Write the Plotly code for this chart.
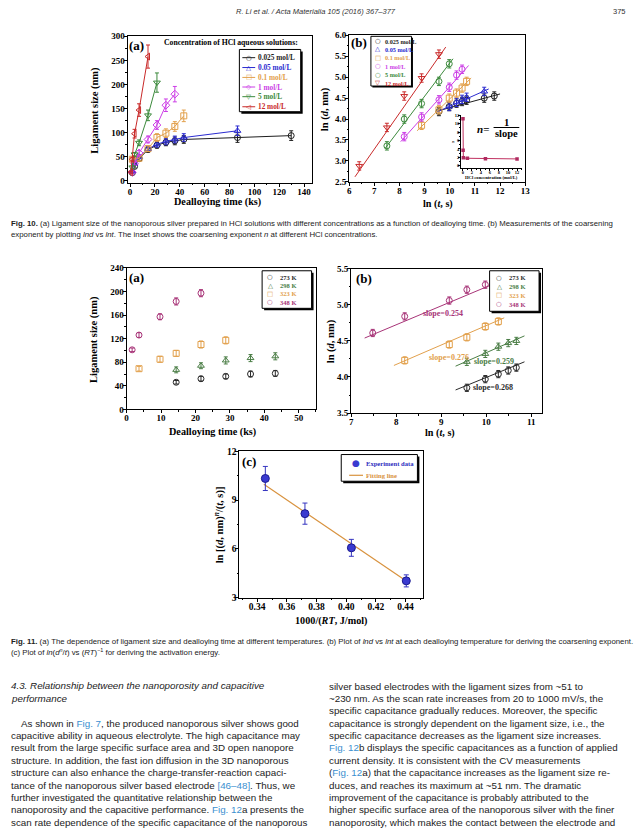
import plotly.graph_objects as go

W, H = 640, 834
SERIF = "Liberation Serif, Times New Roman, serif"
SANS = "Liberation Sans, Arial, sans-serif"
LINK = "#3b8fd0"

# ---------------- Fig. 10(a): ligament size vs dealloying time ----------------
conc_names = ["0.025 mol/L", "0.05 mol/L", "0.1 mol/L", "1 mol/L", "5 mol/L", "12 mol/L"]
t_0025 = [1.8, 3.6, 7.2, 14.4, 21.6, 28.8, 36.0, 43.2, 86.4, 129.6]
d_0025 = [17, 30, 46, 65, 74, 80, 83, 86, 90, 94]
e_0025 = [2, 3, 4, 5, 6, 7, 8, 8, 10, 10]
t_005 = [1.8, 3.6, 7.2, 14.4, 21.6, 28.8, 36.0, 43.2, 86.4]
d_005 = [20, 36, 50, 66, 76, 82, 86, 90, 104]
e_005 = [2, 3, 4, 5, 6, 7, 7, 8, 10]
t_01 = [1.8, 7.2, 14.4, 21.6, 28.8, 36.0, 43.2]
d_01 = [45, 47, 67, 90, 99, 113, 135]
e_01 = [4, 5, 6, 8, 9, 10, 12]
t_1 = [1.8, 3.6, 7.2, 14.4, 21.6, 28.8, 36.0]
d_1 = [18, 36, 58, 86, 116, 157, 180]
e_1 = [2, 3, 5, 7, 9, 13, 16]
t_5 = [1.8, 3.6, 7.2, 14.4, 21.6]
d_5 = [28, 55, 79, 136, 204]
e_5 = [3, 4, 6, 11, 20]
t_12 = [0.6, 1.8, 3.6, 7.2, 14.4]
d_12 = [18, 45, 98, 147, 258]
e_12 = [2, 4, 9, 13, 24]

# ---------------- Fig. 10(b): ln d vs ln t ----------------
lt_0025 = [9.57, 9.98, 10.27, 10.49, 10.67, 11.37, 11.77]
ld_0025 = [4.18, 4.30, 4.38, 4.42, 4.45, 4.50, 4.55]
lt_005 = [9.98, 10.27, 10.49, 10.67, 11.37]
ld_005 = [4.30, 4.40, 4.47, 4.52, 4.66]
lt_01 = [8.88, 9.57, 9.98, 10.27, 10.49, 10.67]
ld_01 = [3.85, 4.22, 4.50, 4.62, 4.74, 4.90]
lt_1 = [8.19, 8.88, 9.57, 9.98, 10.27, 10.49]
ld_1 = [3.58, 4.05, 4.46, 4.76, 5.05, 5.19]
lt_5 = [7.50, 8.19, 8.88, 9.57, 9.98]
ld_5 = [3.36, 4.00, 4.37, 4.90, 5.32]
lt_12 = [6.40, 7.50, 8.19, 8.88, 9.57]
ld_12 = [2.88, 3.80, 4.55, 4.98, 5.55]
ln_err = [0.10, 0.10, 0.10, 0.10, 0.10, 0.10, 0.10]
fit_x_10b = [[9.5, 12.0], [9.5, 11.55], [8.7, 10.85], [8.05, 10.75], [7.43, 10.13], [6.23, 9.84]]
fit_y_10b = [[4.19, 4.60], [4.17, 4.72], [3.72, 4.98], [3.46, 5.28], [3.30, 5.44], [2.62, 5.72]]

# inset: coarsening exponent n vs HCl concentration
inset_conc = [0.025, 0.05, 0.1, 1, 5, 12]
inset_n = [11.1, 3.7, 1.9, 1.8, 1.7, 1.65]

# ---------------- Fig. 11(a): ligament size vs time at temperatures ----------------
temp_names = ["273 K", "298 K", "323 K", "348 K"]
t_273 = [14.4, 21.6, 28.8, 36.0, 43.2]
d_273 = [46, 52, 56, 60, 61]
e_273 = [3, 4, 4, 5, 5]
t_298 = [14.4, 21.6, 28.8, 36.0, 43.2]
d_298 = [67, 74, 83, 87, 90]
e_298 = [5, 5, 6, 6, 6]
t_323 = [3.6, 9.7, 14.4, 21.6, 28.8]
d_323 = [69, 85, 95, 110, 117]
e_323 = [4, 5, 5, 6, 6]
t_348 = [1.6, 3.6, 9.7, 14.4, 21.6]
d_348 = [101, 126, 157, 183, 197]
e_348 = [3, 4, 5, 6, 6]

# ---------------- Fig. 11(b): ln d vs ln t at temperatures ----------------
lt_273 = [9.57, 9.98, 10.27, 10.49, 10.67]
ld_273 = [3.85, 3.97, 4.04, 4.09, 4.13]
lt_298 = [9.57, 9.98, 10.27, 10.49, 10.67]
ld_298 = [4.21, 4.32, 4.42, 4.47, 4.50]
lt_323 = [8.19, 9.18, 9.57, 9.98, 10.27]
ld_323 = [4.23, 4.45, 4.55, 4.70, 4.77]
lt_348 = [7.48, 8.19, 9.18, 9.57, 9.98]
ld_348 = [4.61, 4.84, 5.06, 5.21, 5.28]
ld_err = [0.05, 0.05, 0.05, 0.05, 0.05]
fit_x_11b = [[9.32, 10.85], [9.32, 10.85], [7.95, 10.4], [7.3, 10.2]]
fit_y_11b = [[3.82, 4.21], [4.15, 4.57], [4.16, 4.82], [4.54, 5.30]]
slope_labels = ["slope=0.268", "slope=0.259", "slope=0.276", "slope=0.254"]
slope_lx = [10.15, 10.17, 9.17, 9.05]
slope_ly = [3.86, 4.22, 4.27, 4.88]

# ---------------- Fig. 11(c): Arrhenius plot ----------------
inv_rt = [0.3455, 0.3722, 0.4035, 0.4405]
ln_ratio = [10.33, 8.17, 6.07, 4.04]
ln_ratio_err = [0.74, 0.65, 0.52, 0.37]
fit_x_11c = [0.3445, 0.441]
fit_y_11c = [9.97, 4.00]

# ---------------- styling ----------------
C10 = ["#1e1e1e", "#2b2bd0", "#e2a04c", "#cc3ee6", "#3c8a3c", "#c92a2a"]
SYM10A = ["circle-open", "triangle-up-open", "square-open", "diamond-open", "triangle-down-open", "triangle-left-open"]
SYM10B = ["circle-open", "triangle-up-open", "square-open", "circle-open", "circle-open", "triangle-down-open"]
C11 = ["#2a2a2a", "#4a7d45", "#e2a04c", "#a83478"]
SYM11 = ["circle-open", "triangle-up-open", "square-open", "circle-open"]


def X(p):
    return p / W


def Y(p):
    return 1 - p / H


fig = go.Figure()
ann = []
shapes = []


def text(x, y, s, size, color="#000", family=SERIF, xa="center", ya="middle", angle=0):
    ann.append(dict(x=X(x), y=Y(y), xref="paper", yref="paper", text=s, showarrow=False,
                    font=dict(size=size, color=color, family=family), xanchor=xa, yanchor=ya,
                    textangle=angle, borderpad=0))


def rect(x0, y0, x1, y1, fill="white", lc="black", lw=1):
    shapes.append(dict(type="rect", xref="paper", yref="paper", x0=X(x0), x1=X(x1), y0=Y(y1), y1=Y(y0),
                       fillcolor=fill, line=dict(color=lc, width=lw), layer="above"))


def hline(x0, x1, y, color, w=1):
    shapes.append(dict(type="line", xref="paper", yref="paper", x0=X(x0), x1=X(x1), y0=Y(y), y1=Y(y),
                       line=dict(color=color, width=w), layer="above"))


def legend_box(x0, y0, x1, y1, sh=2):
    rect(x0 + sh, y0 + sh, x1 + sh, y1 + sh, fill="black", lw=0)
    rect(x0, y0, x1, y1)


def axis(px0, px1, rng, dtick, minor, tick0=0, size=9, fmt=None, ticklen=3, mirror=True, vertical=False,
         standoff=-3):
    dom = [Y(px1), Y(px0)] if vertical else [X(px0), X(px1)]
    d = dict(domain=dom, range=rng, dtick=dtick, tick0=tick0, showgrid=False, zeroline=False,
             showline=True, linecolor="black", linewidth=1, mirror=mirror, ticks="outside",
             ticklen=ticklen, tickwidth=1, tickcolor="black", ticklabelstandoff=standoff,
             tickfont=dict(family=SERIF, size=size, color="black", weight="bold"),
             minor=dict(ticks="outside", ticklen=ticklen / 2, dtick=minor, tick0=tick0, tickcolor="black", showgrid=False),
             fixedrange=True)
    if fmt:
        d["tickformat"] = fmt
    return d


# ---------- Fig. 10(a) traces ----------
series10a = [(t_0025, d_0025, e_0025), (t_005, d_005, e_005), (t_01, d_01, e_01),
             (t_1, d_1, e_1), (t_5, d_5, e_5), (t_12, d_12, e_12)]
for (tx, dy, ee), c, s in zip(series10a, C10, SYM10A):
    fig.add_trace(go.Scatter(x=tx, y=dy, xaxis="x", yaxis="y", mode="lines+markers",
                             line=dict(color=c, width=1),
                             marker=dict(symbol=s, size=6, color=c, line=dict(width=1, color=c)),
                             error_y=dict(type="data", array=ee, color=c, thickness=1, width=2),
                             showlegend=False))

# ---------- Fig. 10(b) traces ----------
series10b = [(lt_0025, ld_0025), (lt_005, ld_005), (lt_01, ld_01), (lt_1, ld_1), (lt_5, ld_5), (lt_12, ld_12)]
for (lx, ly), fx, fy, c, s in zip(series10b, fit_x_10b, fit_y_10b, C10, SYM10B):
    fig.add_trace(go.Scatter(x=fx, y=fy, xaxis="x2", yaxis="y2", mode="lines",
                             line=dict(color=c, width=1), showlegend=False))
    fig.add_trace(go.Scatter(x=lx, y=ly, xaxis="x2", yaxis="y2", mode="markers",
                             marker=dict(symbol=s, size=6, color=c, line=dict(width=1, color=c)),
                             error_y=dict(type="data", array=ln_err[:len(lx)], color=c, thickness=1, width=2),
                             showlegend=False))

# inset
fig.add_trace(go.Scatter(x=inset_conc, y=inset_n, xaxis="x3", yaxis="y3", mode="lines+markers",
                         line=dict(color="#c03060", width=1),
                         marker=dict(symbol="square", size=3.5, color="#b02a60"), showlegend=False))

# ---------- Fig. 11(a) traces ----------
series11a = [(t_273, d_273, e_273), (t_298, d_298, e_298), (t_323, d_323, e_323), (t_348, d_348, e_348)]
for (tx, dy, ee), c, s in zip(series11a, C11, SYM11):
    fig.add_trace(go.Scatter(x=tx, y=dy, xaxis="x4", yaxis="y4", mode="markers",
                             marker=dict(symbol=s, size=6, color=c, line=dict(width=1, color=c)),
                             error_y=dict(type="data", array=ee, color=c, thickness=1, width=2),
                             showlegend=False))

# ---------- Fig. 11(b) traces ----------
series11b = [(lt_273, ld_273), (lt_298, ld_298), (lt_323, ld_323), (lt_348, ld_348)]
for (lx, ly), fx, fy, c, s in zip(series11b, fit_x_11b, fit_y_11b, C11, SYM11):
    fig.add_trace(go.Scatter(x=fx, y=fy, xaxis="x5", yaxis="y5", mode="lines",
                             line=dict(color=c, width=1), showlegend=False))
    fig.add_trace(go.Scatter(x=lx, y=ly, xaxis="x5", yaxis="y5", mode="markers",
                             marker=dict(symbol=s, size=6, color=c, line=dict(width=1, color=c)),
                             error_y=dict(type="data", array=ld_err, color=c, thickness=1, width=2),
                             showlegend=False))
for lab, lx, ly, c in zip(slope_labels, slope_lx, slope_ly, C11):
    ann.append(dict(x=lx, y=ly, xref="x5", yref="y5", text="<b>" + lab + "</b>", showarrow=False,
                    font=dict(family=SERIF, size=8, color=c), xanchor="center", yanchor="middle"))

# ---------- Fig. 11(c) traces ----------
fig.add_trace(go.Scatter(x=fit_x_11c, y=fit_y_11c, xaxis="x6", yaxis="y6", mode="lines",
                         line=dict(color="#d8923e", width=1.2), showlegend=False))
fig.add_trace(go.Scatter(x=inv_rt, y=ln_ratio, xaxis="x6", yaxis="y6", mode="markers",
                         marker=dict(symbol="circle", size=8, color="#3a3ad0", line=dict(width=1, color="#1a1a90")),
                         error_y=dict(type="data", array=ln_ratio_err, color="#3434c0", thickness=1, width=2.5),
                         showlegend=False))

# ---------- axes ----------
layout_axes = dict(
    xaxis=dict(axis(127, 313, [-2, 146], 20, 10), anchor="y"),
    yaxis=dict(axis(31.7, 180, [-4, 300], 50, 25, vertical=True), anchor="x"),
    xaxis2=dict(axis(351, 529, [6, 13], 1, 0.5), anchor="y2"),
    yaxis2=dict(axis(30.7, 179, [2.5, 6.0], 0.5, 0.25, tick0=2.5, fmt=".1f", vertical=True), anchor="x2"),
    xaxis3=dict(axis(463.7, 525.3, [-0.5, 13], 2, 1, size=4.5, ticklen=1.5, mirror=False, standoff=-2), anchor="y3"),
    yaxis3=dict(axis(111.4, 165, [-0.5, 12], 2, 1, size=4.5, ticklen=1.5, mirror=False, vertical=True, standoff=-2), anchor="x3"),
    xaxis4=dict(axis(126, 317.4, [0, 55], 10, 5), anchor="y4"),
    yaxis4=dict(axis(266, 409.3, [0, 240], 40, 20, vertical=True), anchor="x4"),
    xaxis5=dict(axis(353, 546, [7, 11.24], 1, 0.5), anchor="y5"),
    yaxis5=dict(axis(267, 413, [3.5, 5.5], 0.5, 0.25, tick0=3.5, fmt=".1f", vertical=True), anchor="x5"),
    xaxis6=dict(axis(240, 426, [0.328, 0.452], 0.02, 0.01, tick0=0.34, fmt=".2f", size=9.5), anchor="y6"),
    yaxis6=dict(axis(451.7, 600, [3, 12], 3, 1.5, size=9.5, vertical=True), anchor="x6"),
)

# ---------- panel labels & axis titles ----------
text(136, 41, "<b>(a)</b>", 13)
text(361, 38, "<b>(b)</b>", 13)
text(136, 276, "<b>(a)</b>", 13)
text(366, 277, "<b>(b)</b>", 13)
text(250, 462, "<b>(c)</b>", 13)

text(94, 106, "<b>Ligament size (nm)</b>", 10.5, angle=-90)
text(218, 199.5, "<b>Dealloying time (ks)</b>", 10.2)
text(326, 105, "<b>ln (<i>d</i>, nm)</b>", 10.5, angle=-90)
text(441, 201, "<b>ln (<i>t</i>, s)</b>", 10.2)
text(93, 338, "<b>Ligament size (nm)</b>", 10.5, angle=-90)
text(213, 432, "<b>Dealloying time (ks)</b>", 10.2)
text(333, 340, "<b>ln (<i>d</i>, nm)</b>", 10.5, angle=-90)
text(443, 433.5, "<b>ln (<i>t</i>, s)</b>", 10.2)
text(219, 526, "<b>ln [(<i>d</i>, nm)<sup><i>n</i></sup>/(<i>t</i>, s)]</b>", 10.5, angle=-90)
text(333, 623.5, "<b>1000/(<i>RT</i>, J/mol)</b>", 10.2)

# ---------- Fig. 10(a) legend ----------
text(232, 38, "<b>Concentration of HCl aqueous solutions:</b>", 7.7)
legend_box(240, 45, 302, 108)
ys10a = [53.3, 63.3, 73.3, 83.0, 92.8, 103.0]
glyph10a = ["○", "△", "□", "◇", "▽", "◁"]
for yy, g, c, nm in zip(ys10a, glyph10a, C10, conc_names):
    hline(243, 256, yy, c)
    text(249.5, yy, g, 6.5, color=c, family="DejaVu Sans")
    text(258, yy, "<b>" + nm + "</b>", 7.3, color=c, xa="left")

# ---------- Fig. 10(b) legend ----------
legend_box(373, 31.7, 414, 82, sh=1.5)
ys10b = [36.5, 45, 53.5, 62, 70.5, 79]
glyph10b = ["○", "△", "□", "○", "○", "▽"]
for yy, g, c, nm in zip(ys10b, glyph10b, C10, conc_names):
    text(380, yy, g, 6.5, color=c, family="DejaVu Sans")
    text(386, yy, "<b>" + nm + "</b>", 6.2, color=c, xa="left")

# inset labels and formula
text(456.5, 138, "<i>n</i>", 5)
text(494.5, 175, "<b>HCl concentration (mol/L)</b>", 4.6)
text(486, 125, "<b><i>n</i>=</b>", 11)
text(510, 118.5, "<b>1</b>", 10.5)
hline(497, 523, 124, "black", 1)
text(510, 130, "<b>slope</b>", 10.5)

# ---------- Fig. 11(a) legend ----------
legend_box(263, 269, 313, 307, sh=2)
ys11 = [275.5, 284, 292.5, 301]
glyph11 = ["○", "△", "□", "○"]
for yy, g, c, nm in zip(ys11, glyph11, C11, temp_names):
    text(271, yy, g, 6.5, color=c, family="DejaVu Sans")
    text(280, yy, "<b>" + nm + "</b>", 6.5, color=c, xa="left")

# ---------- Fig. 11(b) legend ----------
legend_box(493, 269, 543, 310, sh=2)
ys11b = [276, 285, 294, 302.7]
for yy, g, c, nm in zip(ys11b, glyph11, C11, temp_names):
    text(503, yy, g, 6.5, color=c, family="DejaVu Sans")
    text(512, yy, "<b>" + nm + "</b>", 6.5, color=c, xa="left")

# ---------- Fig. 11(c) legend ----------
legend_box(343, 455, 420, 482, sh=2)
text(358, 464, "●", 9, color="#3a3ad0", family="DejaVu Sans")
text(367, 464, "<b>Experiment data</b>", 6.6, color="#2e2ec0", xa="left")
hline(351, 365, 476, "#d8923e", 1.2)
text(367, 476, "<b>Fitting line</b>", 6.6, color="#d8923e", xa="left")

# ---------- page text ----------
text(317, 7, "<i>R. Li et al. / Acta Materialia 105 (2016) 367–377</i>", 7.5, color="#333", family=SANS)
text(632, 7, "375", 7.5, color="#333", family=SANS, xa="right")

CAP = 7.8
text(8, 221, "<b>Fig. 10.</b> (a) Ligament size of the nanoporous silver prepared in HCl solutions with different concentrations as a function of dealloying time. (b) Measurements of the coarsening",
     CAP, color="#222", family=SANS, xa="left")
text(8, 232, "exponent by plotting <i>lnd</i> vs <i>lnt</i>. The inset shows the coarsening exponent <i>n</i> at different HCl concentrations.",
     CAP, color="#222", family=SANS, xa="left")
text(8, 644, "<b>Fig. 11.</b> (a) The dependence of ligament size and dealloying time at different temperatures. (b) Plot of <i>lnd</i> vs <i>lnt</i> at each dealloying temperature for deriving the coarsening exponent.",
     CAP, color="#222", family=SANS, xa="left")
text(8, 655, "(c) Plot of <i>ln</i>(<i>d</i><sup><i>n</i></sup>/<i>t</i>) vs (<i>RT</i>)<sup>−1</sup> for deriving the activation energy.",
     CAP, color="#222", family=SANS, xa="left")


def lk(s):
    return f'<span style="color:{LINK}">{s}</span>'


left_lines = [
    "As shown in " + lk("Fig. 7") + ", the produced nanoporous silver shows good",
    "capacitive ability in aqueous electrolyte. The high capacitance may",
    "result from the large specific surface area and 3D open nanopore",
    "structure. In addition, the fast ion diffusion in the 3D nanoporous",
    "structure can also enhance the charge-transfer-reaction capaci-",
    "tance of the nanoporous silver based electrode " + lk("[46–48]") + ". Thus, we",
    "further investigated the quantitative relationship between the",
    "nanoporosity and the capacitive performance. " + lk("Fig. 12") + "a presents the",
    "scan rate dependence of the specific capacitance of the nanoporous",
]
right_lines = [
    "silver based electrodes with the ligament sizes from ~51 to",
    "~230 nm. As the scan rate increases from 20 to 1000 mV/s, the",
    "specific capacitance gradually reduces. Moreover, the specific",
    "capacitance is strongly dependent on the ligament size, i.e., the",
    "specific capacitance decreases as the ligament size increases.",
    lk("Fig. 12") + "b displays the specific capacitances as a function of applied",
    "current density. It is consistent with the CV measurements",
    "(" + lk("Fig. 12") + "a) that the capacitance increases as the ligament size re-",
    "duces, and reaches its maximum at ~51 nm. The dramatic",
    "improvement of the capacitance is probably attributed to the",
    "higher specific surface area of the nanoporous silver with the finer",
    "nanoporosity, which makes the contact between the electrode and",
]
BODY = 9.8
text(8, 689, "<i>4.3. Relationship between the nanoporosity and capacitive</i>", BODY, color="#222", family=SANS, xa="left")
text(8, 701.5, "<i>performance</i>", BODY, color="#222", family=SANS, xa="left")
for i, ln in enumerate(left_lines):
    text(18 if i == 0 else 8, 727 + 12.5 * i, ln, BODY, color="#222", family=SANS, xa="left")
for i, ln in enumerate(right_lines):
    text(330, 689.5 + 12.5 * i, ln, BODY, color="#222", family=SANS, xa="left")

fig.update_layout(width=W, height=H, margin=dict(l=0, r=0, t=0, b=0), autosize=False,
                  paper_bgcolor="white", plot_bgcolor="white", showlegend=False,
                  annotations=ann, shapes=shapes, **layout_axes)
fig.write_html("out.html", config={"displayModeBar": False, "staticPlot": True},
               post_script="document.body.style.margin='0px';document.body.style.overflow='hidden';")
